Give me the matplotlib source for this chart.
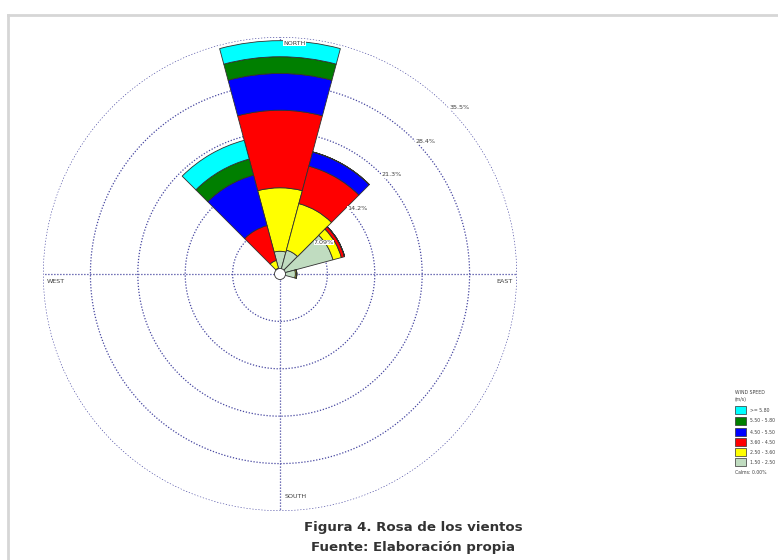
import numpy as np
import matplotlib
matplotlib.use("Agg")
import matplotlib.pyplot as plt
from matplotlib.patches import Rectangle, Circle
from matplotlib.lines import Line2D

# ---- data (frequency %, per speed class, by 30-degree sector) ----
directions_deg = [0, 30, 60, 90, 120, 150, 180, 210, 240, 270, 300, 330]
speed_classes = ["1.50 - 2.50", "2.50 - 3.60", "3.60 - 4.50", "4.50 - 5.50", "5.50 - 5.80", ">= 5.80"]
class_colors = ["#c0dcc0", "#ffff00", "#ff0000", "#0000ff", "#007f00", "#00ffff"]
freq_150_250 = [3.4, 3.7, 8.2, 2.3, 0.4, 0.0, 0.0, 0.0, 0.0, 0.0, 0.4, 0.9]
freq_250_360 = [9.5, 7.2, 1.3, 0.2, 0.1, 0.0, 0.0, 0.0, 0.0, 0.0, 0.2, 1.2]
freq_360_450 = [11.6, 5.8, 0.5, 0.0, 0.0, 0.0, 0.0, 0.0, 0.0, 0.0, 0.0, 5.4]
freq_450_550 = [5.5, 2.2, 0.0, 0.0, 0.0, 0.0, 0.0, 0.0, 0.0, 0.0, 0.0, 7.8]
freq_550_580 = [2.5, 0.0, 0.0, 0.0, 0.0, 0.0, 0.0, 0.0, 0.0, 0.0, 0.0, 2.5]
freq_ge_580 = [2.4, 0.0, 0.0, 0.0, 0.0, 0.0, 0.0, 0.0, 0.0, 0.0, 0.0, 2.9]
ring_values = [7.09, 14.18, 21.27, 28.36, 35.45]
ring_labels = ["7.09%", "14.2%", "21.3%", "28.4%", "35.5%"]
legend_title = ["WIND SPEED", "(m/s)"]
calms_label = "Calms: 0.00%"
caption_lines = ["Figura 4. Rosa de los vientos", "Fuente: Elaboración propia"]

W, H = 778, 560
fig = plt.figure(figsize=(W / 100, H / 100), dpi=100)
fig.patch.set_facecolor("white")

# figure frame (light gray border of the screenshot)
fig.add_artist(Line2D([8 / W, 1.0], [1 - 15 / H, 1 - 15 / H], color="#d6d6d6", lw=2.0, transform=fig.transFigure))
fig.add_artist(Line2D([8 / W, 8 / W], [0.0, 1 - 15 / H], color="#d6d6d6", lw=2.0, transform=fig.transFigure))

cx, cy, R = 280, 274, 237
ax = fig.add_axes([(cx - R) / W, (H - cy - R) / H, 2 * R / W, 2 * R / H], projection="polar")
ax.set_theta_zero_location("N")
ax.set_theta_direction(-1)
ax.set_ylim(0, ring_values[-1])
ax.set_facecolor("none")
ax.spines["polar"].set_visible(False)
ax.set_xticks([])
ax.set_yticks([])
ax.grid(False)

grid_color = "#4646a0"
dots = (0, (1, 1.4))
tt = np.linspace(0, 2 * np.pi, 400)
for rv in ring_values:
    ax.plot(tt, np.full_like(tt, rv), color=grid_color, lw=0.9, ls=dots, zorder=1)
for ang in [0, np.pi / 2, np.pi, 3 * np.pi / 2]:
    ax.plot([ang, ang], [0, ring_values[-1]], color=grid_color, lw=0.9, ls=dots, zorder=1)

theta = np.deg2rad(directions_deg)
width = np.deg2rad(30)
series = [freq_150_250, freq_250_360, freq_360_450, freq_450_550, freq_550_580, freq_ge_580]
bottom = np.zeros(len(directions_deg))
for vals, col in zip(series, class_colors):
    vals = np.array(vals)
    ax.bar(theta, vals, width=width, bottom=bottom, color=col, edgecolor="#303030",
           linewidth=0.6, align="center", zorder=3)
    bottom = bottom + vals

# calm circle
ax.add_artist(Circle((0.5, 0.5), 5.5 / (2 * R), transform=ax.transAxes, facecolor="white",
                     edgecolor="#303030", lw=0.6, zorder=5))

# ring labels
for rv, lab in zip(ring_values, ring_labels):
    ax.text(np.deg2rad(45), rv * 1.01, lab, fontsize=4.6, color="#404040", ha="left", va="top", zorder=6,
            bbox=dict(facecolor="white", edgecolor="none", pad=0.2))

lab_kw = dict(fontsize=4.6, color="#404040", transform=ax.transAxes, zorder=6)
ax.text(0.507, 0.987, "NORTH", ha="left", va="center",
        bbox=dict(facecolor="white", edgecolor="none", pad=0.3), **lab_kw)
ax.text(0.51, 0.03, "SOUTH", ha="left", va="center", **lab_kw)
ax.text(0.009, 0.484, "WEST", ha="left", va="center", **lab_kw)
ax.text(0.957, 0.484, "EAST", ha="left", va="center", **lab_kw)

# legend
def fy(py):
    return 1 - py / H

lx = 735
fig.text(lx / W, fy(392), legend_title[0], fontsize=3.3, color="#404040", va="center", ha="left")
fig.text(lx / W, fy(399), legend_title[1], fontsize=3.3, color="#404040", va="center", ha="left")
legend_y = [410, 421, 432, 442, 452, 462]
legend_entries = list(zip(speed_classes, class_colors))[::-1]
for (lab, col), py in zip(legend_entries, legend_y):
    fig.add_artist(Rectangle((lx / W, fy(py + 4)), 11 / W, 8 / H, transform=fig.transFigure,
                             facecolor=col, edgecolor="#303030", lw=0.5))
    fig.text((lx + 15) / W, fy(py), lab, fontsize=3.3, color="#404040", va="center", ha="left")
fig.text(lx / W, fy(472), calms_label, fontsize=3.3, color="#404040", va="center", ha="left")

# caption
fig.text(413 / W, fy(528), caption_lines[0], fontsize=9.6, fontweight="bold", color="#333333",
         ha="center", va="center")
fig.text(413 / W, fy(548), caption_lines[1], fontsize=9.6, fontweight="bold", color="#333333",
         ha="center", va="center")

fig.savefig("out.png", dpi=100, facecolor="white")
